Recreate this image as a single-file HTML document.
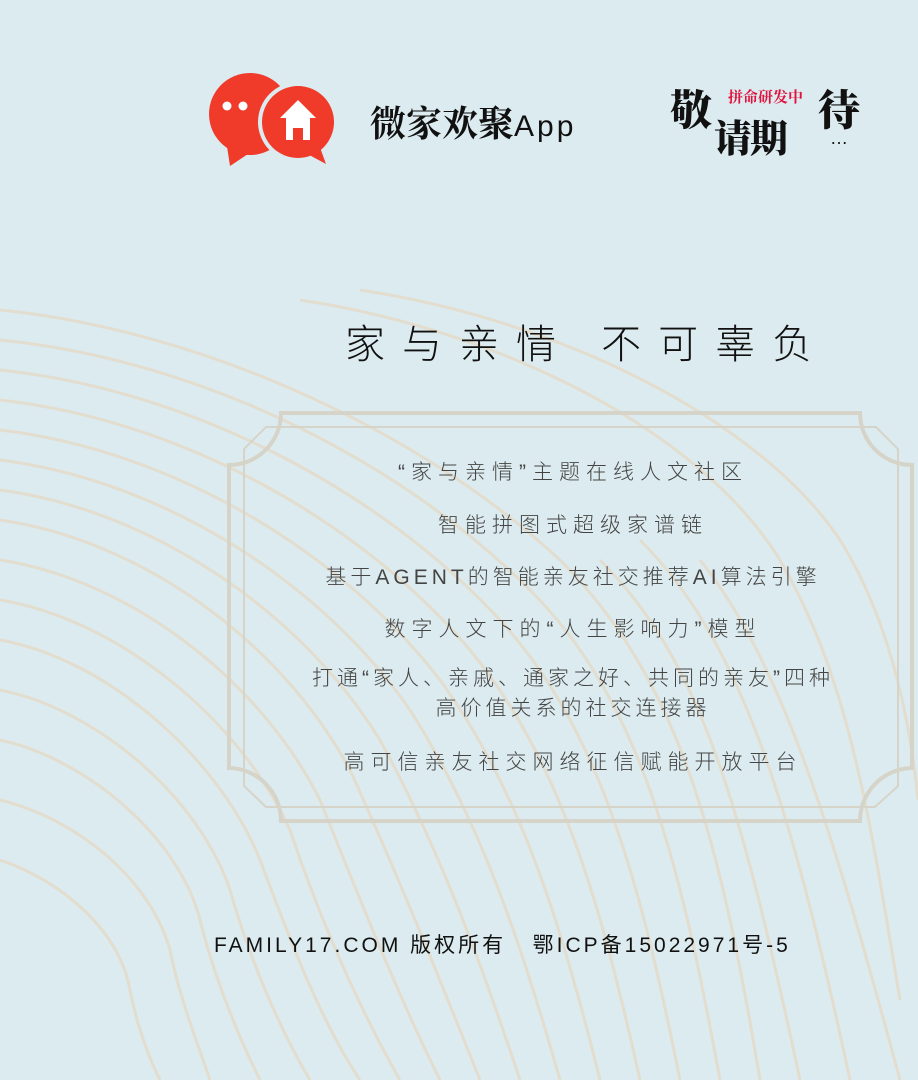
<!DOCTYPE html>
<html><head><meta charset="utf-8">
<style>
html,body{margin:0;padding:0}
body{width:918px;height:1080px;background:#dcebef;position:relative;overflow:hidden;font-family:"Liberation Sans","Noto Sans CJK SC",sans-serif;color:#3a3a3a}
.abs{position:absolute}
.line{position:absolute;left:228px;width:690px;text-align:center;font-size:21px;letter-spacing:6px;color:#444;font-weight:300}
</style></head>
<body>
<svg class="abs" style="left:0;top:0" width="918" height="1080">
<g fill="none" stroke="#e3dccb" stroke-width="3" opacity="0.9">
<path d="M0 310 C200 330 420 430 560 560 C680 680 720 840 760 1080"/>
<path d="M0 340 C200 360 400 460 530 590 C640 700 680 860 720 1080"/>
<path d="M0 370 C190 390 380 490 500 620 C600 730 640 880 680 1080"/>
<path d="M0 400 C180 420 360 520 470 650 C560 760 600 900 640 1080"/>
<path d="M0 430 C170 450 340 550 440 680 C520 790 560 920 600 1080"/>
<path d="M0 460 C160 480 320 580 410 710 C480 820 520 940 560 1080"/>
<path d="M0 490 C150 510 300 610 380 740 C440 850 480 960 520 1080"/>
<path d="M0 520 C140 540 280 640 350 770 C400 880 440 980 480 1080"/>
<path d="M0 560 C130 580 260 680 320 800 C360 900 400 1000 440 1080"/>
<path d="M0 600 C120 620 240 720 290 830 C320 920 360 1010 400 1080"/>
<path d="M0 640 C110 660 220 760 260 860 C290 940 320 1020 360 1080"/>
<path d="M0 690 C100 710 200 800 230 890 C250 960 280 1030 310 1080"/>
<path d="M0 740 C90 760 180 840 200 920 C215 980 240 1040 260 1080"/>
<path d="M0 800 C80 820 150 880 170 950 C180 1000 200 1050 210 1080"/>
<path d="M0 860 C60 880 120 930 130 990 C138 1030 150 1060 160 1080"/>
<path d="M300 300 C500 330 700 430 780 560 C850 680 870 820 900 1000"/>
<path d="M360 290 C560 320 760 420 840 540 C890 620 910 720 918 800"/>
<path d="M600 560 C700 660 740 800 800 1080"/>
<path d="M640 540 C740 640 790 800 850 1080"/>
<path d="M700 560 C780 660 830 820 900 1080"/>
</g>
</svg>

<svg class="abs" style="left:0;top:0" width="918" height="1080">
<path d="M281 413 H860 A52 52 0 0 0 912 465 V768 A53 53 0 0 0 860 821 H281 A53 53 0 0 0 229 768 V465 A52 52 0 0 0 281 413 Z" fill="none" stroke="#d6d4c8" stroke-width="4"/>
<path d="M266 427 H876 L898 449 V786 L875 807 H266 L244 786 V449 Z" fill="none" stroke="#d6d4c8" stroke-width="2"/>
</svg>

<svg class="abs" style="left:0;top:0" width="360" height="180">
<circle cx="250" cy="114" r="41" fill="#f03a2a"/>
<path d="M226 140 L230 166 L254 150Z" fill="#f03a2a"/>
<circle cx="227" cy="106" r="4.5" fill="#fff"/><circle cx="243" cy="106" r="4.5" fill="#fff"/>
<circle cx="298" cy="122" r="40" fill="#dcebef"/>
<circle cx="298" cy="122" r="36" fill="#f03a2a"/>
<path d="M300 150 L326 164 L318 142Z" fill="#f03a2a"/>
<path d="M298 100 L316 118 L310 118 L310 140 L303 140 L303 128 L293 128 L293 140 L286 140 L286 118 L280 118Z" fill="#fff"/>
</svg>
<div class="abs" style="left:370px;top:96px;font-size:36px;font-weight:700;font-family:'Noto Serif CJK SC',serif;color:#111">微家欢聚<span style="font-size:30px;font-family:'Liberation Sans',sans-serif;font-weight:400;letter-spacing:3px">App</span></div>

<div class="abs" style="left:670px;top:78px;width:200px;height:80px">
<div class="abs" style="left:0;top:0;font-size:42px;font-weight:900;font-family:'Noto Serif CJK SC',serif;color:#111">敬</div>
<div class="abs" style="left:148px;top:0;font-size:42px;font-weight:900;font-family:'Noto Serif CJK SC',serif;color:#111">待</div>
<div class="abs" style="left:44px;top:30px;font-size:38px;font-weight:900;font-family:'Noto Serif CJK SC',serif;color:#111;letter-spacing:-2px">请期</div>
<div class="abs" style="left:58px;top:8px;font-size:15px;font-weight:700;font-family:'Noto Serif CJK SC',serif;color:#e0123e">拼命研发中</div>
<div class="abs" style="left:160px;top:50px;font-size:18px;color:#111">…</div>
</div>

<div class="abs" style="left:345px;top:312px;font-size:40px;letter-spacing:17px;color:#111;font-weight:300;white-space:nowrap">家与亲情 不可辜负</div>

<div class="line" style="top:456px">“家与亲情”主题在线人文社区</div>
<div class="line" style="top:509px">智能拼图式超级家谱链</div>
<div class="line" style="top:561px;letter-spacing:4px">基于AGENT的智能亲友社交推荐AI算法引擎</div>
<div class="line" style="top:613px">数字人文下的“人生影响力”模型</div>
<div class="line" style="top:664px;line-height:30px;letter-spacing:4px">打通“家人、亲戚、通家之好、共同的亲友”四种<br>高价值关系的社交连接器</div>
<div class="line" style="top:746px">高可信亲友社交网络征信赋能开放平台</div>

<div class="abs" style="left:214px;top:929px;font-size:21px;letter-spacing:3px;color:#111;white-space:nowrap">FAMILY17.COM 版权所有 &nbsp;&nbsp;鄂ICP备15022971号-5</div>
</body></html>
